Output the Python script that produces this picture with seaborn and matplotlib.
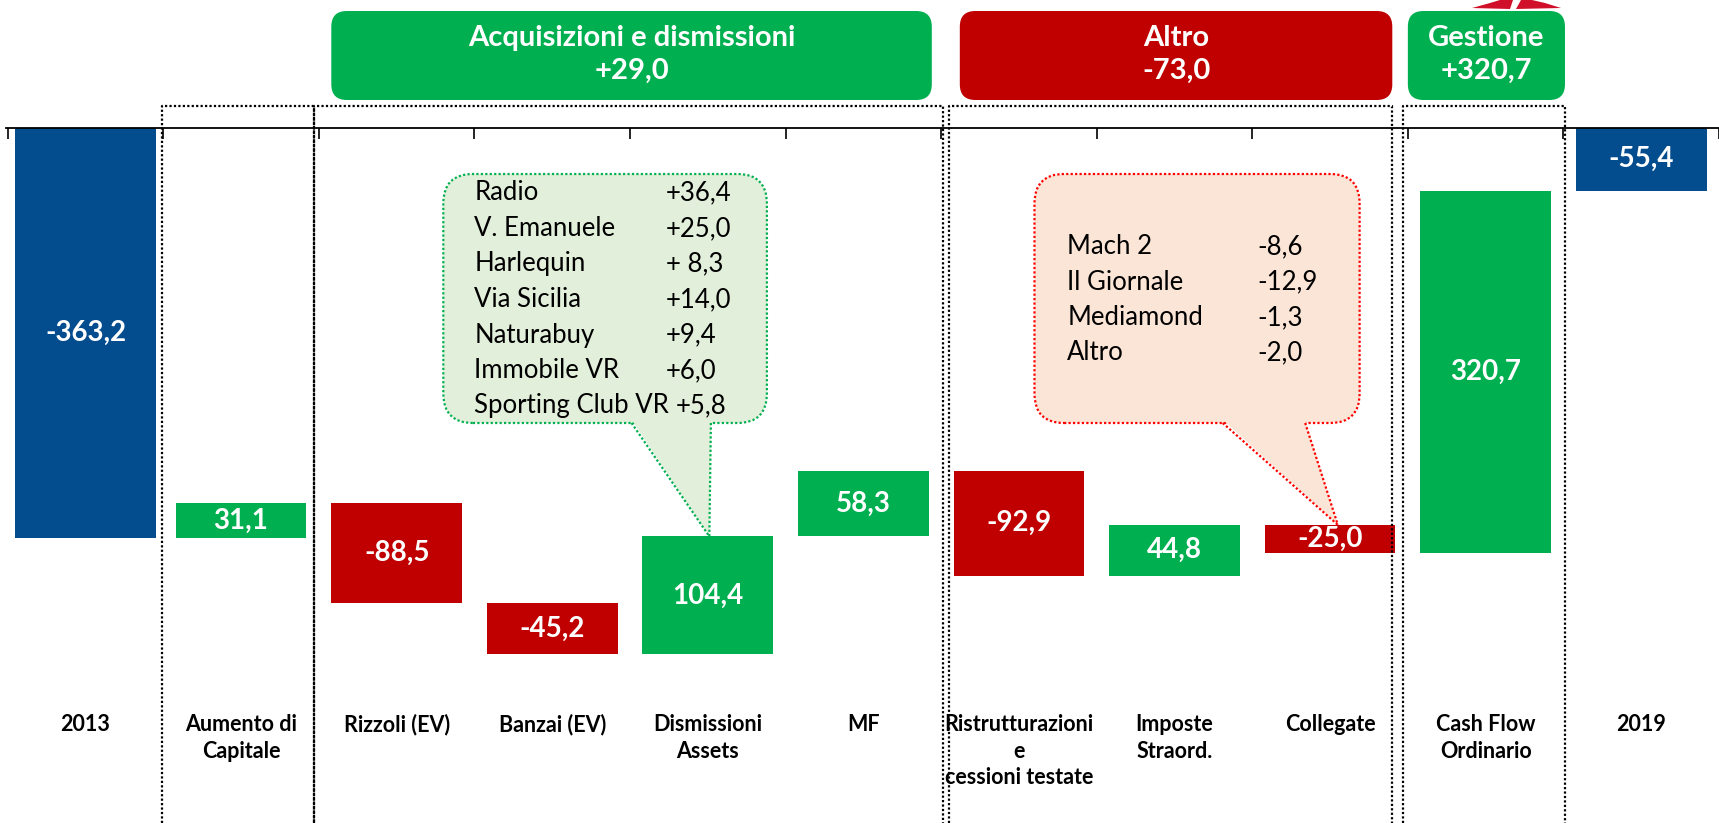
import numpy as np
import pandas as pd
import matplotlib
matplotlib.use("Agg")
import matplotlib.pyplot as plt
import seaborn as sns
from matplotlib.patches import FancyBboxPatch, Polygon

# ---------------- data ----------------
categories = ["2013", "Aumento di\nCapitale", "Rizzoli (EV)", "Banzai (EV)",
              "Dismissioni\nAssets", "MF", "Ristrutturazioni\ne\ncessioni testate",
              "Imposte\nStraord.", "Collegate", "Cash Flow\nOrdinario", "2019"]
values = [-363.2, 31.1, -88.5, -45.2, 104.4, 58.3, -92.9, 44.8, -25.0, 320.7, -55.4]
value_labels = ["-363,2", "31,1", "-88,5", "-45,2", "104,4", "58,3",
                "-92,9", "44,8", "-25,0", "320,7", "-55,4"]
is_total = [True, False, False, False, False, False, False, False, False, False, True]

group_titles = ["Acquisizioni e dismissioni", "Altro", "Gestione"]
group_totals = ["+29,0", "-73,0", "+320,7"]

green_items = ["Radio", "V. Emanuele", "Harlequin", "Via Sicilia", "Naturabuy",
               "Immobile VR", "Sporting Club VR"]
green_vals = ["+36,4", "+25,0", "+ 8,3", "+14,0", "+9,4", "+6,0", "+5,8"]
red_items = ["Mach 2", "Il Giornale", "Mediamond", "Altro"]
red_vals = ["-8,6", "-12,9", "-1,3", "-2,0"]

# ---------------- style / layout ----------------
BLUE, GREEN, RED = "#034C8D", "#00B050", "#C00000"
GREEN_FILL, SALMON_FILL, BUBBLE_RED = "#E2EFDA", "#FBE5D6", "#FF0000"
W, H, DPI = 1719, 823, 100
ZERO_PX = 128
XLIM = (-0.511, 10.43)
YLIM = (-615, 0)

sns.set_theme(style="white")
plt.rcParams["font.family"] = ["Lato", "DejaVu Sans"]

# waterfall geometry
bottoms, heights, colors = [], [], []
run = 0.0
for v, tot in zip(values, is_total):
    if tot:
        start, end = 0.0, v
    else:
        start, end = run, run + v
    run = end
    bottoms.append(min(start, end))
    heights.append(abs(end - start))
    colors.append(BLUE if tot else (GREEN if v > 0 else RED))

fig = plt.figure(figsize=(W / DPI, H / DPI), dpi=DPI)
ax = fig.add_axes([6 / W, 0, 1 - 6 / W, (H - ZERO_PX) / H])

df = pd.DataFrame({"cat": categories, "height": heights})
sns.barplot(data=df, x="cat", y="height", hue="cat", order=categories,
            hue_order=categories, palette=colors, legend=False, width=0.84,
            saturation=1, ax=ax)
for i, (patch, b) in enumerate(zip(ax.patches, bottoms)):
    patch.set_y(b)
    patch.set_edgecolor("none")
    if i == 0:  # first total bar is drawn a little wider in the original
        patch.set_width(0.91)
        patch.set_x(i - 0.455)

ax.set_xlim(*XLIM)
ax.set_ylim(*YLIM)
ax.set_yticks([])
ax.set_xlabel("")
ax.set_ylabel("")
for s in ["left", "right", "bottom"]:
    ax.spines[s].set_visible(False)
ax.spines["top"].set_color("black")
ax.spines["top"].set_linewidth(1.3)
ax.xaxis.tick_top()
ax.set_xticks([-0.5 + k for k in range(12)])
ax.set_xticklabels([])
ax.tick_params(axis="x", direction="in", length=8, width=1.2, color="black",
               labeltop=False, labelbottom=False, top=True, bottom=False)

# pixel scales
px_x = (W - 6) / (XLIM[1] - XLIM[0])
px_y = (H - ZERO_PX) / (YLIM[1] - YLIM[0])
ASP = (1 / px_y) / (1 / px_x)


def py(pix):
    """figure pixel row -> data y"""
    return -(pix - ZERO_PX) / px_y


# bar value labels
for i, (b, h, lab) in enumerate(zip(bottoms, heights, value_labels)):
    ax.text(i, b + h / 2, lab, ha="center", va="center", color="white",
            fontsize=20, fontweight="bold", zorder=5)

# category labels
for i, cat in enumerate(categories):
    ax.text(i, py(714), cat, ha="center", va="top", fontsize=15.5,
            fontweight="bold", color="black", linespacing=1.33, clip_on=False)

# dotted group frames
frames = [(0.49, 1.47), (1.47, 5.51), (5.55, 8.40), (8.47, 9.51)]
ytop = py(106)
for x0, x1 in frames:
    ax.plot([x0, x0, x1, x1], [YLIM[0], ytop, ytop, YLIM[0]], color="black",
            ls=(0, (1, 1)), lw=1.6, clip_on=False, zorder=1)

# header boxes
boxes = [(1.58, 5.44), (5.62, 8.40), (8.50, 9.51)]
box_cols = [GREEN, RED, GREEN]
yb, yt = py(100), py(11)
for (x0, x1), col, t, tot in zip(boxes, box_cols, group_titles, group_totals):
    p = FancyBboxPatch((x0, yb), x1 - x0, yt - yb,
                       boxstyle="round,pad=0,rounding_size=0.1",
                       mutation_aspect=ASP, facecolor=col, edgecolor="none",
                       clip_on=False, zorder=3)
    ax.add_patch(p)
    ax.text((x0 + x1) / 2, (yb + yt) / 2 + 1, f"{t}\n{tot}", ha="center",
            va="center", color="white", fontsize=21, fontweight="bold",
            linespacing=1.33, clip_on=False, zorder=4)

# cropped piece of the red logo at the top edge (figure pixel coordinates)
def fig_px(pts):
    return [(x / W, 1 - y / H) for x, y in pts]


logo_parts = [
    [(1472, 8), (1490, 3), (1500, 0), (1513, 0), (1510, 9)],
    [(1516, 9), (1521, 0), (1532, 0), (1545, 3), (1561, 8)],
]
for part in logo_parts:
    fig.patches.append(Polygon(fig_px(part), closed=True, transform=fig.transFigure,
                               facecolor="#D0102A", edgecolor="none"))


def bubble(x0, x1, ytop_pix, ybot_pix, base_l, base_r, tip_x, tip_y, fill, edge):
    y0, y1 = py(ybot_pix), py(ytop_pix)
    rect = FancyBboxPatch((x0, y0), x1 - x0, y1 - y0,
                          boxstyle="round,pad=0,rounding_size=0.19",
                          mutation_aspect=ASP, facecolor=fill, edgecolor=edge,
                          lw=1.6, ls=(0, (1, 1)), zorder=3)
    ax.add_patch(rect)
    tail = Polygon([[base_l, y0 + 3], [base_r, y0 + 3], [tip_x, tip_y]],
                   closed=True, facecolor=fill, edgecolor="none", zorder=3.5)
    ax.add_patch(tail)
    ax.plot([base_l, tip_x], [y0, tip_y], color=edge, ls=(0, (1, 1)), lw=1.6, zorder=3.6)
    ax.plot([base_r, tip_x], [y0, tip_y], color=edge, ls=(0, (1, 1)), lw=1.6, zorder=3.6)


# green callout (to Dismissioni Assets)
i_d = 4
bubble(2.30, 4.38, 174, 423, 3.51, 4.02, i_d + 0.01, bottoms[i_d] + heights[i_d],
       GREEN_FILL, GREEN)
# red callout (to Collegate)
i_c = 8
bubble(6.10, 8.19, 174, 423, 7.31, 7.84, i_c + 0.05, bottoms[i_c] + heights[i_c],
       SALMON_FILL, BUBBLE_RED)

fig.canvas.draw()
renderer = fig.canvas.get_renderer()


def bubble_text(items, vals, xl, xr, y0pix, step):
    for k, (n, v) in enumerate(zip(items, vals)):
        yy = py(y0pix + step * k)
        t = ax.text(xl, yy, n, ha="left", va="center", fontsize=18.5,
                    color="black", zorder=6)
        bb = t.get_window_extent(renderer).transformed(ax.transData.inverted())
        xv = max(xr, bb.x1 + 0.04)
        ax.text(xv, yy, v, ha="left", va="center", fontsize=18.5,
                color="black", zorder=6)


bubble_text(green_items, green_vals, 2.50, 3.73, 193, 35.5)
bubble_text(red_items, red_vals, 6.31, 7.53, 247, 35.3)

fig.savefig("out.png", dpi=DPI, facecolor="white")
